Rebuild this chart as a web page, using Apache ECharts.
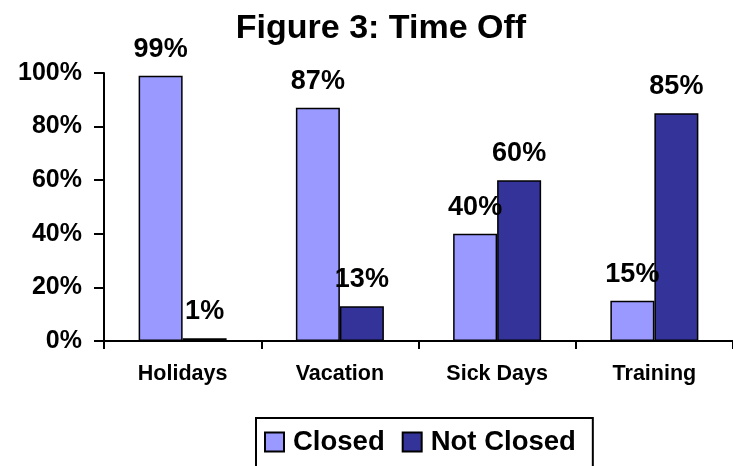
<!DOCTYPE html>
<html>
<head>
<meta charset="utf-8">
<script src="https://cdn.jsdelivr.net/npm/echarts@6/dist/echarts.min.js"></script>
<style>
  html, body { margin: 0; padding: 0; background: #fff; }
  #chart { width: 733px; height: 466px; }
</style>
</head>
<body>
<div id="chart"></div>
<script>
// data
const categories = ['Holidays', 'Vacation', 'Sick Days', 'Training'];
const closed = [99, 87, 40, 15];
const notClosed = [1, 13, 60, 85];
const seriesNames = ['Closed', 'Not Closed'];

const font = 'Liberation Sans, Arial, sans-serif';
const chart = echarts.init(document.getElementById('chart'));

const barLabel = {
  show: true,
  position: 'top',
  distance: 13,
  formatter: '{c}%',
  color: '#000',
  fontFamily: font,
  fontWeight: 'bold',
  fontSize: 27
};

chart.setOption({
  animation: false,
  title: {
    text: 'Figure 3: Time Off',
    left: 376,
    textAlign: 'center',
    top: 7,
    textStyle: { fontFamily: font, fontWeight: 'bold', fontSize: 34, color: '#000' }
  },
  legend: {
    data: seriesNames,
    left: 256,
    top: 418,
    orient: 'horizontal',
    icon: 'rect',
    itemWidth: 19,
    itemHeight: 19,
    itemGap: 17,
    padding: [10, 17, 30, 8],
    borderColor: '#000',
    borderWidth: 2,
    textStyle: { fontFamily: font, fontWeight: 'bold', fontSize: 27.5, color: '#000', padding: [0, 0, 0, 4] }
  },
  grid: { left: 104, top: 73, width: 635, height: 268 },
  xAxis: {
    type: 'category',
    data: categories,
    axisLine: { lineStyle: { color: '#000', width: 2 } },
    axisTick: { show: true, length: 8, lineStyle: { color: '#000', width: 2 } },
    axisLabel: { margin: 22, color: '#000', fontFamily: font, fontWeight: 'bold', fontSize: 21.5 }
  },
  yAxis: {
    type: 'value',
    min: 0,
    max: 100,
    interval: 20,
    axisLine: { show: true, lineStyle: { color: '#000', width: 2 } },
    axisTick: { show: true, length: 10, lineStyle: { color: '#000', width: 2 } },
    splitLine: { show: false },
    axisLabel: { formatter: '{value}%', margin: 22, color: '#000', fontFamily: font, fontWeight: 'bold', fontSize: 25 }
  },
  series: [
    {
      name: seriesNames[0],
      type: 'bar',
      data: closed,
      barWidth: 44,
      barGap: '0%',
      itemStyle: { color: '#9999ff', borderColor: '#000', borderWidth: 1.5 },
      label: barLabel
    },
    {
      name: seriesNames[1],
      type: 'bar',
      data: notClosed,
      barWidth: 44,
      barGap: '0%',
      itemStyle: { color: '#333399', borderColor: '#000', borderWidth: 1.5 },
      label: barLabel
    }
  ]
});
</script>
</body>
</html>
